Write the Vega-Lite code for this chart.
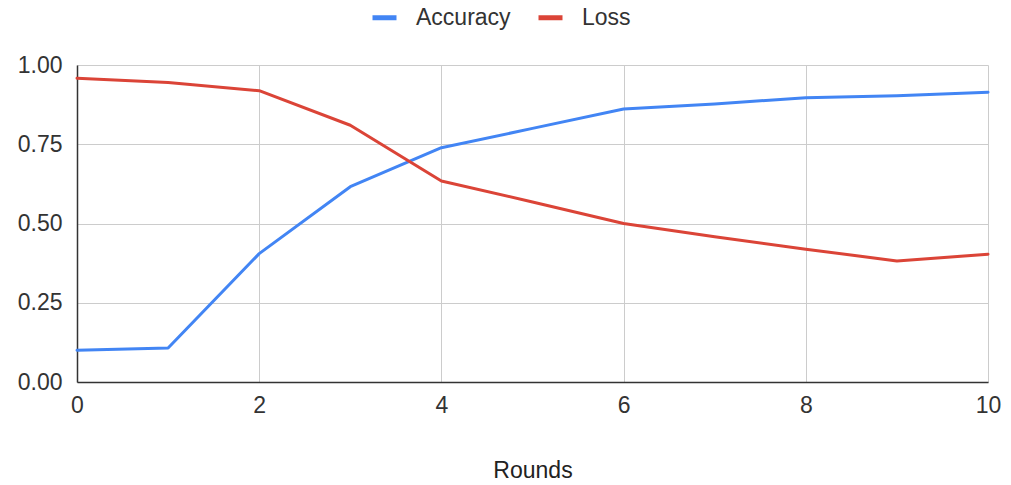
{
  "$schema": "https://vega.github.io/schema/vega-lite/v6.json",
  "width": 911,
  "height": 317,
  "autosize": {"type": "none"},
  "padding": {"left": 77, "top": 65, "right": 23, "bottom": 103},
  "background": "white",
  "data": {
    "values": [
      {"round": 0, "series": "Accuracy", "value": 0.10},
      {"round": 1, "series": "Accuracy", "value": 0.107},
      {"round": 2, "series": "Accuracy", "value": 0.405},
      {"round": 3, "series": "Accuracy", "value": 0.616},
      {"round": 4, "series": "Accuracy", "value": 0.739},
      {"round": 5, "series": "Accuracy", "value": 0.80},
      {"round": 6, "series": "Accuracy", "value": 0.861},
      {"round": 7, "series": "Accuracy", "value": 0.877},
      {"round": 8, "series": "Accuracy", "value": 0.897},
      {"round": 9, "series": "Accuracy", "value": 0.903},
      {"round": 10, "series": "Accuracy", "value": 0.914},
      {"round": 0, "series": "Loss", "value": 0.958},
      {"round": 1, "series": "Loss", "value": 0.945},
      {"round": 2, "series": "Loss", "value": 0.919},
      {"round": 3, "series": "Loss", "value": 0.81},
      {"round": 4, "series": "Loss", "value": 0.634},
      {"round": 5, "series": "Loss", "value": 0.568},
      {"round": 6, "series": "Loss", "value": 0.50},
      {"round": 7, "series": "Loss", "value": 0.458},
      {"round": 8, "series": "Loss", "value": 0.419},
      {"round": 9, "series": "Loss", "value": 0.382},
      {"round": 10, "series": "Loss", "value": 0.403}
    ]
  },
  "mark": {"type": "line", "strokeWidth": 3, "strokeJoin": "round", "strokeCap": "round", "clip": false},
  "encoding": {
    "x": {
      "field": "round",
      "type": "quantitative",
      "scale": {"domain": [0, 10], "nice": false, "zero": false},
      "axis": {
        "title": "Rounds",
        "values": [0, 2, 4, 6, 8, 10],
        "format": "d",
        "labelFlush": false,
        "labelPadding": 12,
        "titlePadding": 42,
        "domainColor": "#333333",
        "domainWidth": 1.5
      }
    },
    "y": {
      "field": "value",
      "type": "quantitative",
      "scale": {"domain": [0, 1], "nice": false},
      "axis": {
        "title": null,
        "values": [0, 0.25, 0.5, 0.75, 1],
        "format": ".2f",
        "labelFlush": false,
        "labelPadding": 15,
        "labelBaseline": "middle",
        "domainColor": "#333333",
        "domainWidth": 1.5
      }
    },
    "color": {
      "field": "series",
      "type": "nominal",
      "scale": {"domain": ["Accuracy", "Loss"], "range": ["#4285F4", "#DB4437"]},
      "legend": {
        "title": null,
        "orient": "none",
        "direction": "horizontal",
        "legendX": 293,
        "legendY": -62,
        "symbolType": "stroke",
        "symbolSize": 576,
        "symbolStrokeWidth": 5,
        "labelFont": "Liberation Sans",
        "labelFontSize": 23,
        "labelColor": "#333333",
        "labelOffset": 17,
        "columnPadding": 17
      }
    }
  },
  "config": {
    "view": {"stroke": null},
    "font": "Liberation Sans",
    "axis": {
      "labelFont": "Liberation Sans",
      "labelFontSize": 23,
      "labelColor": "#333333",
      "titleFont": "Liberation Sans",
      "titleFontSize": 23,
      "titleFontWeight": "normal",
      "titleColor": "#222222",
      "ticks": false,
      "grid": true,
      "gridColor": "#cccccc",
      "gridWidth": 1
    }
  }
}
